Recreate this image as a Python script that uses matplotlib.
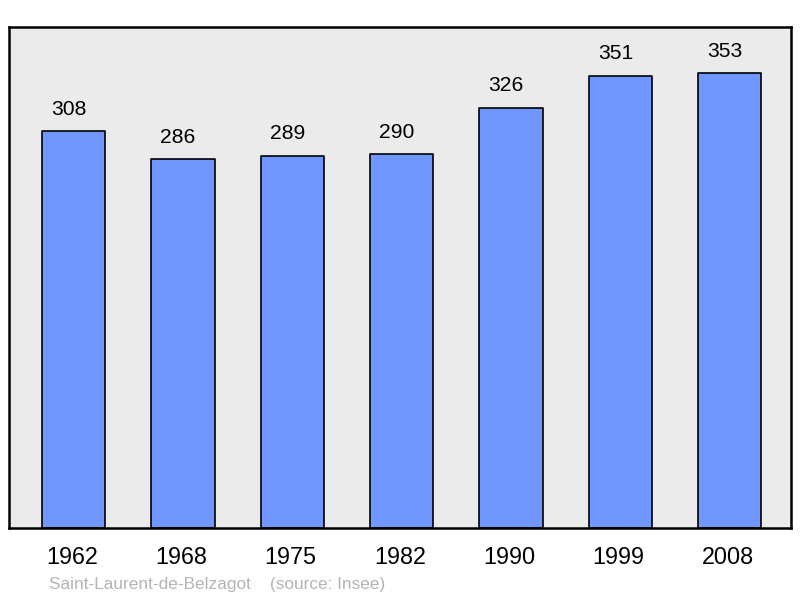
import matplotlib
matplotlib.use('Agg')
import matplotlib.pyplot as plt

plt.rcParams['font.family'] = ['Liberation Sans', 'DejaVu Sans']

years = ['1962', '1968', '1975', '1982', '1990', '1999', '2008']
population = [308, 286, 289, 290, 326, 351, 353]

fig = plt.figure(figsize=(8, 5.98), dpi=100)
ax = fig.add_axes([9 / 800, 70 / 598, 782 / 800, 501 / 598])
ax.set_facecolor('#ebebeb')

x = range(len(years))
bars = ax.bar(x, population, width=0.58, color='#7097ff', edgecolor='black',
              linewidth=1.2, joinstyle='round', zorder=2)

# value labels sit a bit left of bar centre in the original
for xi, v in zip(x, population):
    ax.annotate(str(v), (xi, v), xytext=(-3.6, 15.8), textcoords='offset points',
                ha='center', va='center', fontsize=15.2)

ax.set_xlim(-0.59, 6.56)
ax.set_ylim(0, 388.7)
ax.set_yticks([])
ax.set_xticks([xi - 0.015 for xi in x])
ax.set_xticklabels(years, fontsize=16.8)
ax.tick_params(axis='x', length=0, pad=13)
for s in ax.spines.values():
    s.set_linewidth(1.8)
    s.set_joinstyle('round')

fig.text(49 / 800, 1 - 584 / 598, 'Saint-Laurent-de-Belzagot    (source: Insee)',
         fontsize=12.4, color='#b4b4b4', va='center', ha='left')

fig.savefig('out.png', dpi=100)
